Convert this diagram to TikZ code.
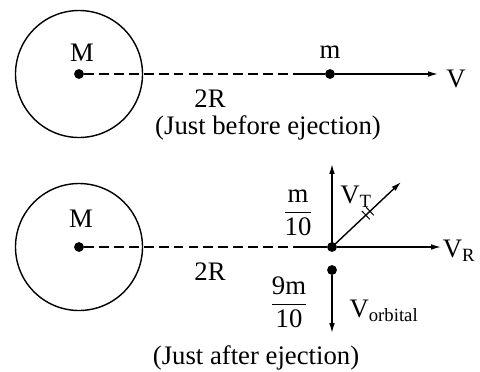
\documentclass[tikz,border=0pt]{standalone}
\usepackage{amsmath}
\usepackage{fontspec}
\setmainfont{Liberation Serif}
\usepackage{tikz}
\usetikzlibrary{arrows.meta, calc}

\begin{document}
\begin{tikzpicture}[
  x=0.025cm, y=-0.025cm,
  mass/.style={circle, fill=black, inner sep=0pt, minimum size=7pt},
  body/.style={circle, draw, line width=1pt, minimum size=127*0.025cm, inner sep=0pt},
  ln/.style={line width=1pt},
  dsh/.style={line width=1pt, dash pattern=on 7pt off 3.6pt},
  ar/.style={-{Latex[length=7pt,width=4pt]}, line width=1pt},
  lbl/.style={font=\fontsize{19}{22}\selectfont, inner sep=0pt},
]
  \useasboundingbox (0,0) rectangle (480,371);

  % before ejection
  \node[body] (earth1) at (79,74) {};
  \node[mass] (M1) at (79,74) {};
  \node[mass] (m1) at (330,74) {};
  \coordinate (j1) at (293,74);
  \coordinate (v1) at (438,74);
  \draw[dsh] (M1) -- (j1);
  \draw[ln] (j1) -- (m1);
  \draw[ar] (m1) -- (v1);
  \node[lbl] (lM1) at (82,53) {M};
  \node[lbl] (lm1) at (330,52) {m};
  \node[lbl] (lV1) at (456,79) {V};
  \node[lbl] (l2R1) at (210,99) {2R};
  \node[lbl] (cap1) at (268,128) {(Just before ejection)};

  % after ejection
  \node[body] (earth2) at (79,247) {};
  \node[mass] (M2) at (79,247) {};
  \node[mass] (m2) at (332,247) {};
  \node[mass] (m3) at (332,270) {};
  \coordinate (j2) at (293,247);
  \coordinate (vup) at (332,164);
  \coordinate (vt) at (401,182);
  \coordinate (vr) at (441,247);
  \coordinate (vo) at (332,333);
  \draw[dsh] (M2) -- (j2);
  \draw[ln] (j2) -- (m2);
  \draw[ar] (m2.center) -- (vup);
  \draw[ar] (m2.center) -- (vt);
  \draw[ar] (m2) -- (vr);
  \draw[ar] (m3) -- (vo);
  % tick marks
  \coordinate (t1) at ($(m2)!0.49!(vt)$);
  \coordinate (t2) at ($(m2)!0.55!(vt)$);
  \draw[line width=0.7pt] ($(t1)!0.12!90:(vt)$) -- ($(t1)!0.12!-90:(vt)$);
  \draw[line width=0.7pt] ($(t2)!0.13!90:(vt)$) -- ($(t2)!0.13!-90:(vt)$);

  \node[lbl] (lM2) at (81,219) {M};
  \node[lbl] (l2R2) at (210,272) {2R};
  \node[lbl] (lfr1) at (298,213) {$\dfrac{\text{m}}{\text{10}}$};
  \node[lbl] (lfr2) at (289,302) {$\dfrac{\text{9m}}{\text{10}}$};
  \node[lbl] (lVT) at (356,197) {V$_{\text{T}}$};
  \node[lbl] (lVR) at (459,251) {V$_{\text{R}}$};
  \node[lbl] (lVo) at (384,311) {V$_{\text{orbital}}$};
  \node[lbl] (cap2) at (256,358) {(Just after ejection)};
\end{tikzpicture}
\end{document}
